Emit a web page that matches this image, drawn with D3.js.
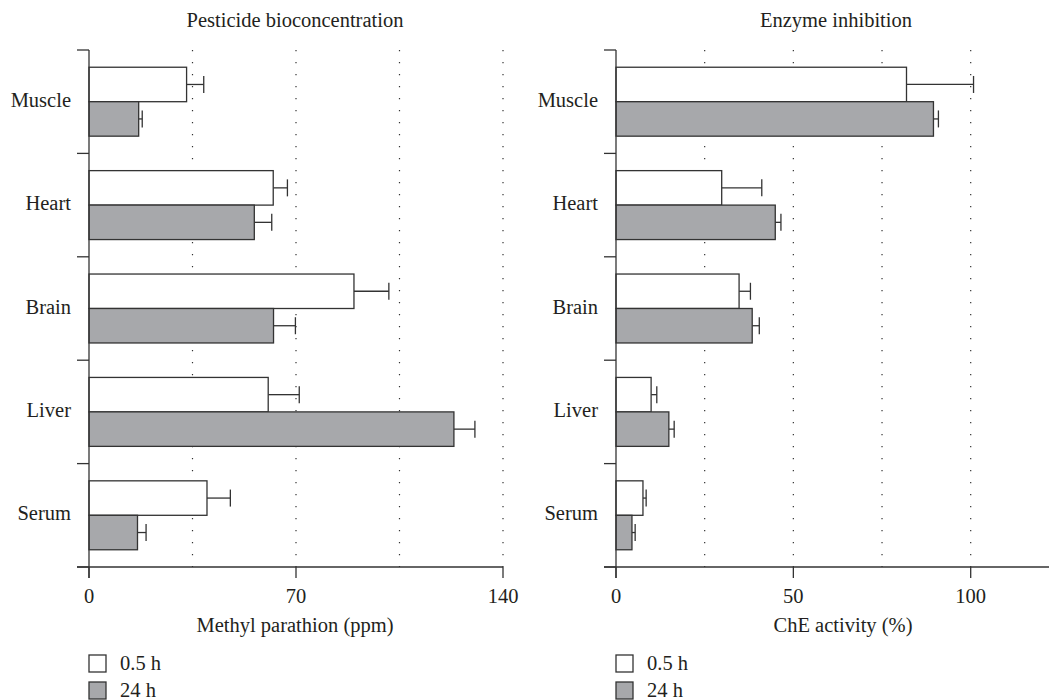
<!DOCTYPE html>
<html>
<head>
<meta charset="utf-8">
<script src="https://cdn.jsdelivr.net/npm/d3@7"></script>
<style>
  html, body { margin: 0; padding: 0; background: #fff; }
  svg text { font-family: "Liberation Serif", "DejaVu Serif", serif; fill: #231f20; }
</style>
</head>
<body>
<svg id="chart" width="1049" height="700"></svg>
<script>
// ---- Data ----
const categories = ["Muscle", "Heart", "Brain", "Liver", "Serum"];
const seriesNames = ["0.5 h", "24 h"];

// Panel A: Pesticide bioconcentration, Methyl parathion (ppm)
const pesticide05 = [33, 62.3, 89.6, 60.6, 39.9];
const pesticide05Err = [5.8, 4.8, 11.8, 10.5, 7.9];
const pesticide24 = [16.8, 55.9, 62.4, 123.4, 16.4];
const pesticide24Err = [1.2, 5.9, 7.4, 7.1, 2.9];
const pesticideTicks = [0, 70, 140];
const pesticideGrid = [35, 70, 105, 140];

// Panel B: Enzyme inhibition, ChE activity (%)
const enzyme05 = [81.9, 29.8, 34.7, 9.9, 7.6];
const enzyme05Err = [18.9, 11.3, 3.2, 1.6, 0.9];
const enzyme24 = [89.5, 44.9, 38.4, 14.9, 4.5];
const enzyme24Err = [1.4, 1.6, 2.0, 1.5, 0.9];
const enzymeTicks = [0, 50, 100];
const enzymeGrid = [25, 50, 75, 100];

// ---- Drawing ----
const svg = d3.select("#chart");
const fills = ["#ffffff", "#a7a8ab"];
const stroke = "#333333";
const plotTop = 50, plotBottom = 567;
const fs = 20.5;

function panel(opts) {
  const g = svg.append("g");
  const x = d3.scaleLinear().domain(opts.domain).range([opts.x0, opts.x1]);
  const y = d3.scaleBand().domain(categories).range([plotTop, plotBottom]).paddingInner(0).paddingOuter(0);
  const inner = d3.scaleBand().domain(seriesNames).range([0, y.bandwidth()]).paddingOuter(0.5).paddingInner(0);

  // dotted grid
  g.selectAll("line.grid").data(opts.grid).join("line")
    .attr("x1", d => x(d)).attr("x2", d => x(d))
    .attr("y1", plotTop).attr("y2", plotBottom)
    .attr("stroke", "#333").attr("stroke-width", 1.2)
    .attr("stroke-dasharray", "1.2,10.8");

  const rows = [];
  categories.forEach((c, i) => {
    rows.push({ c, s: seriesNames[0], v: opts.a[i], e: opts.aErr[i], k: 0 });
    rows.push({ c, s: seriesNames[1], v: opts.b[i], e: opts.bErr[i], k: 1 });
  });

  // error bars
  const eb = g.selectAll("g.err").data(rows).join("g");
  eb.append("line")
    .attr("x1", d => x(d.v)).attr("x2", d => x(d.v + d.e))
    .attr("y1", d => y(d.c) + inner(d.s) + inner.bandwidth() / 2)
    .attr("y2", d => y(d.c) + inner(d.s) + inner.bandwidth() / 2)
    .attr("stroke", stroke).attr("stroke-width", 1.3);
  eb.append("line")
    .attr("x1", d => x(d.v + d.e)).attr("x2", d => x(d.v + d.e))
    .attr("y1", d => y(d.c) + inner(d.s) + inner.bandwidth() / 2 - 8.5)
    .attr("y2", d => y(d.c) + inner(d.s) + inner.bandwidth() / 2 + 8.5)
    .attr("stroke", stroke).attr("stroke-width", 1.3);

  // bars
  g.selectAll("rect.bar").data(rows).join("rect")
    .attr("x", x(0))
    .attr("y", d => y(d.c) + inner(d.s))
    .attr("width", d => x(d.v) - x(0))
    .attr("height", inner.bandwidth())
    .attr("fill", d => fills[d.k])
    .attr("stroke", stroke).attr("stroke-width", 1.3);

  // y axis
  g.append("line").attr("x1", x(0)).attr("x2", x(0)).attr("y1", plotTop).attr("y2", plotBottom + 11)
    .attr("stroke", stroke).attr("stroke-width", 1.3);
  const bounds = categories.map(c => y(c)).concat([plotBottom]);
  g.selectAll("line.ytick").data(bounds).join("line")
    .attr("x1", x(0) - 12).attr("x2", x(0)).attr("y1", d => d).attr("y2", d => d)
    .attr("stroke", stroke).attr("stroke-width", 1.3);
  g.selectAll("text.cat").data(categories).join("text")
    .attr("x", x(0) - 18).attr("y", d => y(d) + y.bandwidth() / 2 + 5)
    .attr("text-anchor", "end").attr("font-size", fs).text(d => d);

  // x axis
  g.append("line").attr("x1", x(0) - 12).attr("x2", opts.axisEnd).attr("y1", plotBottom).attr("y2", plotBottom)
    .attr("stroke", stroke).attr("stroke-width", 1.3);
  g.selectAll("line.xtick").data(opts.ticks).join("line")
    .attr("x1", d => x(d)).attr("x2", d => x(d)).attr("y1", plotBottom).attr("y2", plotBottom + 11)
    .attr("stroke", stroke).attr("stroke-width", 1.3);
  g.selectAll("text.xt").data(opts.ticks).join("text")
    .attr("x", d => x(d)).attr("y", 603).attr("text-anchor", "middle").attr("font-size", fs)
    .text(d => d);

  g.append("text").attr("x", opts.labelX).attr("y", 632).attr("text-anchor", "middle")
    .attr("font-size", fs).text(opts.xlabel);
  g.append("text").attr("x", opts.titleX).attr("y", 27).attr("text-anchor", "middle")
    .attr("font-size", fs).text(opts.title);

  // legend
  const lg = g.selectAll("g.leg").data(seriesNames).join("g")
    .attr("transform", (d, i) => `translate(${x(0)},${655 + i * 27})`);
  lg.append("rect").attr("width", 17).attr("height", 17)
    .attr("fill", (d, i) => fills[i]).attr("stroke", stroke).attr("stroke-width", 1.3);
  lg.append("text").attr("x", 31).attr("y", 15).attr("font-size", fs).text(d => d);
}

panel({
  domain: [0, 140], x0: 89, x1: 503, axisEnd: 503,
  grid: pesticideGrid, ticks: pesticideTicks,
  a: pesticide05, aErr: pesticide05Err, b: pesticide24, bErr: pesticide24Err,
  title: "Pesticide bioconcentration", titleX: 295,
  xlabel: "Methyl parathion (ppm)", labelX: 295
});
panel({
  domain: [0, 100], x0: 616, x1: 970.7, axisEnd: 1049,
  grid: enzymeGrid, ticks: enzymeTicks,
  a: enzyme05, aErr: enzyme05Err, b: enzyme24, bErr: enzyme24Err,
  title: "Enzyme inhibition", titleX: 836,
  xlabel: "ChE activity (%)", labelX: 843
});
</script>
</body>
</html>
